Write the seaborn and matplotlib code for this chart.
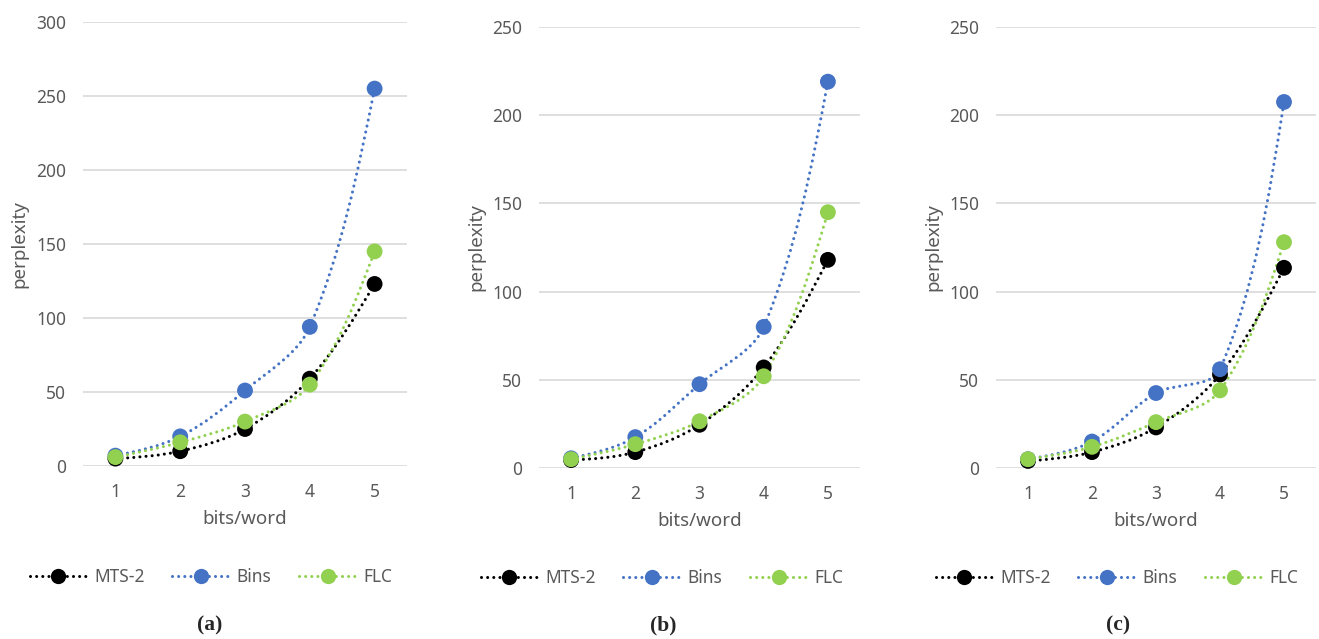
import numpy as np
import pandas as pd
import seaborn as sns
import matplotlib
matplotlib.use('Agg')
import matplotlib.pyplot as plt
from matplotlib.path import Path
from matplotlib.patches import PathPatch
from matplotlib.lines import Line2D

# data
bits = [1, 2, 3, 4, 5]
series = ['MTS-2', 'Bins', 'FLC']

mts2_a = [5, 10, 25, 59, 123]
bins_a = [7, 20, 51, 94, 255]
flc_a = [6, 16, 30, 55, 145]

mts2_b = [4.5, 9, 24.5, 57, 118]
bins_b = [5.5, 17.5, 47.5, 80, 219]
flc_b = [5, 13.5, 26.5, 52, 145]

mts2_c = [4, 9, 23, 53, 113.5]
bins_c = [5, 15, 42.5, 56, 207.5]
flc_c = [5, 12, 26, 44, 128]

captions = ['(a)', '(b)', '(c)']
ymax = [300, 250, 250]

colors = {'MTS-2': '#000000', 'Bins': '#4472C4', 'FLC': '#92D050'}
text_col = '#595959'
grid_col = '#D9D9D9'
dots = (0, (0.01, 2.0))
lw_line = 2.2

sns.set_style('white')
plt.rcParams['font.family'] = ['Noto Sans', 'DejaVu Sans']


def make_df(mts2, bins_, flc):
    rows = []
    for name, vals in zip(series, [mts2, bins_, flc]):
        for b, v in zip(bits, vals):
            rows.append({'bits': b, 'perplexity': v, 'method': name})
    return pd.DataFrame(rows)


dfs = [make_df(mts2_a, bins_a, flc_a),
       make_df(mts2_b, bins_b, flc_b),
       make_df(mts2_c, bins_c, flc_c)]


def smooth_path(ax, x, y, s=1.0 / 3.0):
    # excel-like smoothed line, control points weighted by segment length on screen
    pts = ax.transData.transform(np.column_stack([x, y]).astype(float))
    n = len(pts)
    seg = np.hypot(*np.diff(pts, axis=0).T)
    c_in = [None] * n
    c_out = [None] * n
    for i in range(n):
        if i == 0 or i == n - 1:
            c_in[i] = pts[i]
            c_out[i] = pts[i]
            continue
        d = pts[i + 1] - pts[i - 1]
        lp, ln = seg[i - 1], seg[i]
        c_in[i] = pts[i] - d * s * lp / (lp + ln)
        c_out[i] = pts[i] + d * s * ln / (lp + ln)
    # end points: aim towards next control
    c_out[0] = pts[0] + (c_in[1] - pts[0]) / 2.0
    c_in[-1] = pts[-1] + (c_out[-2] - pts[-1]) / 2.0
    verts = [pts[0]]
    codes = [Path.MOVETO]
    for i in range(n - 1):
        verts += [c_out[i], c_in[i + 1], pts[i + 1]]
        codes += [Path.CURVE4] * 3
    verts = ax.transData.inverted().transform(np.array(verts))
    return Path(verts, codes)


fig = plt.figure(figsize=(13.19, 6.39), dpi=100)

boxes = [[83 / 1319, 1 - 466 / 639, 324 / 1319, 444 / 639],
         [539 / 1319, 1 - 468 / 639, 321 / 1319, 441 / 639],
         [996 / 1319, 1 - 468 / 639, 320 / 1319, 441 / 639]]
legend_x = [0.395, 0.383, 0.378]
caption_x = [210, 663, 1118]

for k in range(3):
    ax = fig.add_axes(boxes[k])
    df = dfs[k]

    ax.set_xlim(0.5, 5.5)
    ax.set_ylim(0, ymax[k])

    for name in series:
        sub = df[df.method == name]
        patch = PathPatch(smooth_path(ax, sub.bits.values, sub.perplexity.values),
                          facecolor='none', edgecolor=colors[name], lw=lw_line,
                          linestyle=dots, capstyle='round',
                          zorder=2, clip_on=False)
        ax.add_patch(patch)

    sns.scatterplot(data=df, x='bits', y='perplexity', hue='method',
                    hue_order=series, palette=colors, s=130, linewidth=0,
                    legend=False, zorder=3, clip_on=False, ax=ax)

    ax.set_xlim(0.5, 5.5)
    ax.set_ylim(0, ymax[k])
    ax.set_xticks(bits)
    ax.set_yticks(np.arange(0, ymax[k] + 1, 50))
    ax.grid(True, axis='y', color=grid_col, lw=1.2)
    ax.set_axisbelow(True)
    for sp in ax.spines.values():
        sp.set_visible(False)
    ax.tick_params(axis='both', length=0, labelsize=12.5, labelcolor=text_col)
    ax.tick_params(axis='x', pad=12)
    ax.tick_params(axis='y', pad=12)

    ax.set_xlabel('bits/word', fontsize=13.5, color=text_col)
    ax.set_ylabel('perplexity', fontsize=13.5, color=text_col)
    ax.xaxis.set_label_coords(0.5, -0.12)
    ax.xaxis.label.set_va('center')
    ax.yaxis.set_label_coords(-0.195, 0.5)
    ax.yaxis.label.set_va('center')

    proxies = [Line2D([0], [0], color=colors[n], lw=lw_line, linestyle=dots,
                      dash_capstyle='round', marker='o', markersize=11,
                      markeredgewidth=0, label=n) for n in series]
    leg = ax.legend(handles=proxies, loc='center', bbox_to_anchor=(legend_x[k], -0.25),
                    ncol=3, frameon=False, fontsize=12.5, handlelength=3.3,
                    handletextpad=0.4, columnspacing=1.6)
    for t in leg.get_texts():
        t.set_color(text_col)

    fig.text(caption_x[k] / 1319, 1 - 625 / 639, captions[k], ha='center', va='center',
             fontsize=15.5, fontweight='bold', family='Liberation Serif')

fig.savefig('out.png', dpi=100)
